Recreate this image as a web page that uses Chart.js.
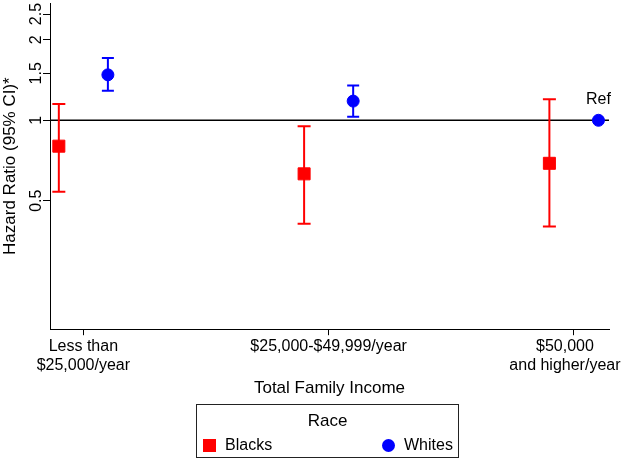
<!DOCTYPE html>
<html>
<head>
<meta charset="utf-8">
<script src="https://cdn.jsdelivr.net/npm/chart.js@4/dist/chart.umd.min.js"></script>
<style>
  html, body { margin: 0; padding: 0; background: #fff; }
  #wrap { position: relative; width: 622px; height: 459px; }
  #c { position: absolute; left: 0; top: 0; }
  #legend { position: absolute; left: 196px; top: 404px; width: 263px; height: 54px; box-sizing: border-box;
            border: 1px solid #222; font-family: "Liberation Sans", Arial, Helvetica, sans-serif; color: #000; }
  #legend .ttl { position: absolute; left: 0; right: 0; top: 6px; text-align: center; font-size: 17px; line-height: 20px; }
  #legend .item { position: absolute; top: 31px; height: 18px; display: flex; align-items: center; font-size: 16px; line-height: 18px; }
  #legend .mk { display: inline-block; margin-right: 9px; }
</style>
</head>
<body>
<div id="wrap">
  <canvas id="c" width="622" height="459"></canvas>
  <div id="legend"></div>
</div>
<script>
// ---------------- data ----------------
const categories = [['Less than', '$25,000/year'], '$25,000-$49,999/year', ['$50,000', 'and higher/year']];
const seriesNames = ['Blacks', 'Whites'];
const blacksHR   = [0.80, 0.63, 0.69];
const blacksLow  = [0.54, 0.41, 0.40];
const blacksHigh = [1.15, 0.95, 1.20];
const whitesHR   = [1.48, 1.18, 1.00];
const whitesLow  = [1.29, 1.03, null];
const whitesHigh = [1.71, 1.35, null];
const yTicks      = [0.5, 1, 1.5, 2, 2.5];
const yTickLabels = ['0.5', '1', '1.5', '2', '2.5'];
const refValue = 1;
const refLabel = 'Ref';
const refCategory = 2;
const xTitle = 'Total Family Income';
const yTitle = 'Hazard Ratio (95% CI)*';
const legendTitle = 'Race';

// ---------------- styling / axis range ----------------
const RED = '#ff0000', BLUE = '#0000ff';
const groupOffset = 0.1;
const xMin = -0.136, xMax = 2.143;
const yMin = 0.165, yMax = 2.75;
const FONT = '"Liberation Sans", Arial, Helvetica, sans-serif';
Chart.defaults.font.family = FONT;
Chart.defaults.color = '#000';

function markerPts(vals, off) { return vals.map((v, i) => ({ x: i + off, y: v })); }
function ciPts(lo, hi, off) {
  const out = [];
  lo.forEach((l, i) => {
    if (l == null || hi[i] == null) return;
    if (out.length) out.push({ x: i + off - 0.5, y: null });
    out.push({ x: i + off, y: l }, { x: i + off, y: hi[i] });
  });
  return out;
}

const refLinePlugin = {
  id: 'refLine',
  beforeDatasetsDraw(chart) {
    const { ctx, chartArea: a, scales: { y } } = chart;
    const py = y.getPixelForValue(refValue);
    ctx.save();
    ctx.strokeStyle = '#000';
    ctx.lineWidth = 1.6;
    ctx.beginPath();
    ctx.moveTo(a.left, py);
    ctx.lineTo(a.right, py);
    ctx.stroke();
    ctx.restore();
  }
};

const refLabelPlugin = {
  id: 'refLabel',
  afterDatasetsDraw(chart) {
    const el = chart.getDatasetMeta(1).data[refCategory];
    if (!el) return;
    const ctx = chart.ctx;
    ctx.save();
    ctx.font = '16px ' + FONT;
    ctx.fillStyle = '#000';
    ctx.textAlign = 'center';
    ctx.textBaseline = 'middle';
    ctx.fillText(refLabel, el.x, el.y - 21);
    ctx.restore();
  }
};

const lastLabelShift = {
  id: 'lastLabelShift',
  afterUpdate(chart) {
    const items = chart.scales.x.getLabelItems();
    const it = items[items.length - 1];
    if (it && !it._shifted) {
      it.options.translation = [it.options.translation[0] - 9, it.options.translation[1]];
      it._shifted = true;
    }
  }
};

const chart = new Chart(document.getElementById('c'), {
  type: 'scatter',
  data: {
    datasets: [
      { label: seriesNames[0], data: markerPts(blacksHR, -groupOffset), pointStyle: 'rect', pointRadius: 8.5,
        backgroundColor: RED, borderColor: RED, borderWidth: 1, order: 0 },
      { label: seriesNames[1], data: markerPts(whitesHR, groupOffset), pointStyle: 'circle', pointRadius: 6,
        backgroundColor: BLUE, borderColor: BLUE, borderWidth: 1, order: 0 },
      { label: seriesNames[0] + ' CI', data: ciPts(blacksLow, blacksHigh, -groupOffset), showLine: true, spanGaps: false,
        borderColor: RED, borderWidth: 2, pointStyle: 'line', pointRadius: 6.5, pointBorderWidth: 2,
        pointBorderColor: RED, backgroundColor: RED, order: 1, isCI: true },
      { label: seriesNames[1] + ' CI', data: ciPts(whitesLow, whitesHigh, groupOffset), showLine: true, spanGaps: false,
        borderColor: BLUE, borderWidth: 2, pointStyle: 'line', pointRadius: 6, pointBorderWidth: 2,
        pointBorderColor: BLUE, backgroundColor: BLUE, order: 1, isCI: true }
    ]
  },
  options: {
    responsive: false,
    animation: false,
    devicePixelRatio: 1,
    events: [],
    layout: { autoPadding: false, padding: { top: 3, right: 13, bottom: 60, left: 0 } },
    plugins: { legend: { display: false }, tooltip: { enabled: false } },
    scales: {
      x: {
        type: 'linear', min: xMin, max: xMax,
        afterBuildTicks: s => { s.ticks = categories.map((c, i) => ({ value: i })); },
        afterFit: s => { s.paddingLeft = 0; s.paddingRight = 0; },
        ticks: { callback: (v, i) => categories[i], font: { size: 16 }, padding: 2, maxRotation: 0, minRotation: 0,
                 autoSkip: false, color: '#000' },
        grid: { display: true, drawOnChartArea: false, drawTicks: true, tickLength: 6, color: '#000', lineWidth: 1 },
        border: { display: true, color: '#000', width: 1 },
        title: { display: true, text: xTitle, font: { size: 17 }, padding: { top: 1, bottom: 0 }, color: '#000' }
      },
      y: {
        type: 'logarithmic', min: yMin, max: yMax,
        afterBuildTicks: s => { s.ticks = yTicks.map(v => ({ value: v })); },
        afterFit: s => { s.width = 50; s.paddingTop = 0; s.paddingBottom = 0; },
        ticks: { callback: (v, i) => yTickLabels[i], font: { size: 16 }, padding: -5, minRotation: 90, maxRotation: 90,
                 crossAlign: 'center', autoSkip: false, color: '#000' },
        grid: { display: true, drawOnChartArea: false, drawTicks: true, tickLength: 7, color: '#000', lineWidth: 1 },
        border: { display: true, color: '#000', width: 1 },
        title: { display: true, text: yTitle, font: { size: 17 }, padding: { top: 0, bottom: 0 }, color: '#000' }
      }
    }
  },
  plugins: [refLinePlugin, refLabelPlugin, lastLabelShift]
});

// HTML legend built from the chart's marker datasets
(function buildLegend() {
  const box = document.getElementById('legend');
  const t = document.createElement('div');
  t.className = 'ttl';
  t.textContent = legendTitle;
  box.appendChild(t);
  const markers = chart.data.datasets.filter(d => !d.isCI);
  const lefts = [6, 185];
  markers.forEach((d, k) => {
    const it = document.createElement('div');
    it.className = 'item';
    it.style.left = lefts[k] + 'px';
    const mk = document.createElement('span');
    mk.className = 'mk';
    mk.style.background = d.backgroundColor;
    mk.style.width = '13px';
    mk.style.height = '13px';
    if (d.pointStyle === 'circle') mk.style.borderRadius = '50%';
    const tx = document.createElement('span');
    tx.textContent = d.label;
    it.appendChild(mk);
    it.appendChild(tx);
    box.appendChild(it);
  });
})();
</script>
</body>
</html>
